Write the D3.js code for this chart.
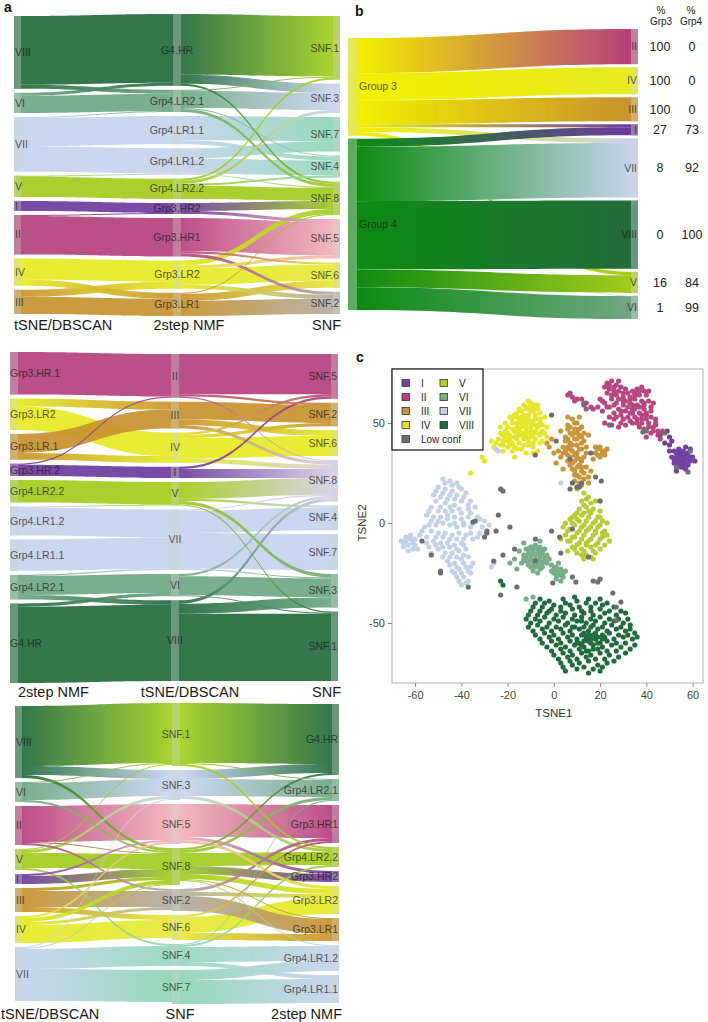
<!DOCTYPE html>
<html>
<head>
<meta charset="utf-8">
<script src="https://cdn.jsdelivr.net/npm/d3@7"></script>
<style>
  body { margin: 0; background: #fff; }
  svg { font-family: Arial, "Liberation Sans", sans-serif; }
</style>
</head>
<body>
<svg id="fig" width="708" height="1022"></svg>
<script>
// ---------- data ----------
// cluster orders used in each alluvial panel
var tsneA1 = ["VIII", "VI", "VII", "V", "I", "II", "IV", "III"];
var nmfA1 = ["G4.HR", "Grp4.LR2.1", "Grp4.LR1.1", "Grp4.LR1.2", "Grp4.LR2.2", "Grp3.HR2", "Grp3.HR1", "Grp3.LR2", "Grp3.LR1"];
var snfA1 = ["SNF.1", "SNF.3", "SNF.7", "SNF.4", "SNF.8", "SNF.5", "SNF.6", "SNF.2"];

var nmfA2 = ["Grp3.HR1", "Grp3.LR2", "Grp3.LR1", "Grp3.HR2", "Grp4.LR2.2", "Grp4.LR1.2", "Grp4.LR1.1", "Grp4.LR2.1", "G4.HR"];
var tsneA2 = ["II", "III", "IV", "I", "V", "VII", "VI", "VIII"];
var snfA2 = ["SNF.5", "SNF.2", "SNF.6", "SNF.8", "SNF.4", "SNF.7", "SNF.3", "SNF.1"];

var tsneA3 = ["VIII", "VI", "II", "V", "I", "III", "IV", "VII"];
var snfA3 = ["SNF.1", "SNF.3", "SNF.5", "SNF.8", "SNF.2", "SNF.6", "SNF.4", "SNF.7"];
var nmfA3 = ["G4.HR", "Grp4.LR2.1", "Grp3.HR1", "Grp4.LR2.2", "Grp3.HR2", "Grp3.LR2", "Grp3.LR1", "Grp4.LR1.2", "Grp4.LR1.1"];

// labels shown for 2step NMF in the middle panel
var nmfA2Labels = {"Grp3.HR1": "Grp3.HR.1", "Grp3.LR2": "Grp3.LR2", "Grp3.LR1": "Grp3.LR.1", "Grp3.HR2": "Grp3.HR.2",
  "Grp4.LR2.2": "Grp4.LR2.2", "Grp4.LR1.2": "Grp4.LR1.2", "Grp4.LR1.1": "Grp4.LR1.1", "Grp4.LR2.1": "Grp4.LR2.1", "G4.HR": "G4.HR"};

// sample counts shared between methods [from, to, n]
var tsneNmf = [
  ["VIII", "G4.HR", 68], ["VIII", "Grp4.LR2.1", 4],
  ["VI", "G4.HR", 3], ["VI", "Grp4.LR2.1", 17],
  ["VII", "Grp4.LR2.1", 1], ["VII", "Grp4.LR1.1", 28], ["VII", "Grp4.LR1.2", 25],
  ["V", "Grp4.LR1.2", 1], ["V", "Grp4.LR2.2", 20],
  ["I", "Grp3.HR2", 10],
  ["II", "Grp3.HR2", 1], ["II", "Grp3.HR1", 38],
  ["IV", "Grp3.LR2", 21], ["IV", "Grp3.LR1", 6],
  ["III", "Grp3.LR2", 7], ["III", "Grp3.LR1", 17]
];
var nmfSnf = [
  ["G4.HR", "SNF.1", 60], ["G4.HR", "SNF.3", 9], ["G4.HR", "SNF.8", 2],
  ["Grp4.LR2.1", "SNF.1", 1], ["Grp4.LR2.1", "SNF.3", 17], ["Grp4.LR2.1", "SNF.4", 1], ["Grp4.LR2.1", "SNF.8", 3],
  ["Grp4.LR1.1", "SNF.7", 24], ["Grp4.LR1.1", "SNF.4", 4],
  ["Grp4.LR1.2", "SNF.7", 10], ["Grp4.LR1.2", "SNF.4", 15], ["Grp4.LR1.2", "SNF.8", 1],
  ["Grp4.LR2.2", "SNF.1", 2], ["Grp4.LR2.2", "SNF.3", 3], ["Grp4.LR2.2", "SNF.4", 2], ["Grp4.LR2.2", "SNF.8", 13],
  ["Grp3.HR2", "SNF.8", 8], ["Grp3.HR2", "SNF.5", 3],
  ["Grp3.HR1", "SNF.5", 33], ["Grp3.HR1", "SNF.6", 2], ["Grp3.HR1", "SNF.2", 3],
  ["Grp3.LR2", "SNF.8", 5], ["Grp3.LR2", "SNF.5", 3], ["Grp3.LR2", "SNF.6", 16], ["Grp3.LR2", "SNF.2", 4],
  ["Grp3.LR1", "SNF.8", 1], ["Grp3.LR1", "SNF.6", 7], ["Grp3.LR1", "SNF.2", 15]
];
var tsneSnf = [
  ["VIII", "SNF.1", 60], ["VIII", "SNF.3", 9], ["VIII", "SNF.8", 3],
  ["VI", "SNF.1", 1], ["VI", "SNF.3", 17], ["VI", "SNF.8", 2],
  ["VII", "SNF.3", 1], ["VII", "SNF.4", 20], ["VII", "SNF.7", 32], ["VII", "SNF.8", 1],
  ["V", "SNF.1", 1], ["V", "SNF.3", 3], ["V", "SNF.4", 2], ["V", "SNF.8", 15],
  ["I", "SNF.8", 8], ["I", "SNF.5", 2],
  ["II", "SNF.5", 36], ["II", "SNF.8", 1], ["II", "SNF.2", 2],
  ["IV", "SNF.5", 2], ["IV", "SNF.6", 18], ["IV", "SNF.8", 4], ["IV", "SNF.2", 3],
  ["III", "SNF.2", 16], ["III", "SNF.6", 5], ["III", "SNF.8", 3]
];

// panel b
var groupsB = ["Group 3", "Group 4"];
var clustersB = ["II", "IV", "III", "I", "VII", "VIII", "V", "VI"];
var sizesB = [35, 27, 24, 11, 59, 68, 21, 23];
var pctGrp3 = [100, 100, 100, 27, 8, 0, 16, 1];
var pctGrp4 = [0, 0, 0, 73, 92, 100, 84, 99];

// panel c (tSNE coordinates)
var scatterNames = ["I", "II", "III", "IV", "V", "VI", "VII", "VIII", "Low conf"];
var scatterPts = [
  // I
  "52,36 54,37 56,36 58,35 53,33 55,34 57,32 59,31 54,31 56,30 52,30 58,29 55,28 53,28 57,27 51,33 60,33 54,35 56,33 55,31 49,46 50,43 48,40 51,41 46,44 50,39 50,36 53,26 59,37 57,38 61,31 " +
  "53,35 55,36 57,34 52,32 54,33 56,32 58,33 53,30 55,30 57,30 54,29 56,28 59,33",
  // II
  "23,70 25,71 27,69 24,67 28,71 22,68 26,66 29,68 20,62 22,60 25,62 27,64 30,63 32,65 34,66 36,67 38,68 35,62 33,60 30,59 28,57 26,55 24,58 29,54 31,56 34,57 36,59 38,61 40,64 39,57 37,55 35,53 33,51 31,49 36,50 38,52 40,54 42,56 41,50 43,48 39,47 42,45 44,52 37,48 27,60 24,53 21,56 19,58 22,50 25,49 33,63 31,67 37,64 43,60 45,46 40,43 34,55 29,50 32,53 28,48 26,52 45,44 47,46 46,42 6,64 8,63 10,62 12,62 14,60 16,58 17,57 7,65 9,61 13,59 41,66 39,60 35,65 30,61 44,49 " +
  "24,69 26,68 28,66 23,65 25,64 21,61 23,58 26,59 28,62 31,61 33,62 35,64 37,66 39,66 34,59 32,58 29,56 27,53 30,52 33,55 35,57 37,58 39,59 41,61 40,55 38,54 36,52 34,50 38,50 40,52 42,53 41,48 43,46 44,50 42,58 30,65",
  // III
  "8,52 10,50 6,49 9,47 12,48 7,45 11,44 5,43 9,42 13,41 7,40 10,39 4,38 12,37 8,36 6,34 10,33 14,35 9,31 11,29 7,29 8,27 12,26 10,24 13,22 9,21 15,23 11,20 6,31 3,33 2,36 5,41 11,53 13,45 15,44 3,46 6,38 12,31 14,28 16,26 18,35 19,37 21,36 22,34 20,33 18,38 17,32 23,37 -1,42 -2,38 1,30 0,35 4,27 15,20 12,19 6,53 8,44 10,35 9,26 -3,40 " +
  "9,50 7,48 11,47 8,45 10,42 6,42 12,40 8,39 11,37 5,36 9,34 7,33 11,32 13,33 8,30 10,28 12,28 9,24 11,23 13,25 7,37 4,35 14,38 19,34 21,35 20,38 22,36 6,47 10,45 12,43",
  // IV
  "-24,42 -22,44 -25,40 -23,39 -20,41 -21,46 -19,44 -18,47 -17,43 -16,45 -18,50 -16,50 -14,48 -15,52 -13,54 -12,50 -11,52 -12,46 -10,48 -9,51 -8,54 -10,56 -7,57 -9,58 -12,57 -14,56 -6,52 -5,49 -7,48 -4,45 -6,44 -8,42 -10,43 -13,42 -15,40 -11,39 -17,38 -20,38 -14,37 -9,38 -16,55 -19,53 -21,50 -23,48 -13,59 -8,59 -3,48 -5,41 -27,41 -26,38 -22,36 -18,36 -12,35 -7,36 -17,33 -11,45 -13,44 -15,47 -17,54 -4,53 -10,60 -30,31 -36,25 -9,35 -11,61 -6,55 -20,48 -22,41 -15,44 -8,46 -19,39 -3,43 -31,33 " +
  "-23,45 -21,43 -19,42 -17,46 -16,48 -14,50 -13,52 -11,54 -9,56 -7,59 -12,58 -15,57 -14,53 -16,53 -18,52 -20,45 -22,39 -18,40 -16,42 -14,45 -12,48 -10,50 -8,52 -6,50 -7,45 -9,44 -11,41 -13,39 -16,37 -9,40 -5,46 -11,58 -8,49 -10,46 -12,43 -6,40",
  // V
  "13,15 15,13 12,11 16,10 14,8 11,7 17,7 13,5 9,4 15,3 19,3 7,2 11,1 21,1 5,0 9,-1 13,-1 17,0 23,0 7,-3 11,-4 15,-3 19,-2 22,-4 5,-6 9,-7 13,-6 17,-6 21,-7 7,-9 11,-10 15,-9 19,-10 8,-12 12,-13 16,-12 20,-13 10,-15 14,-16 18,-15 13,-18 4,-2 3,-8 24,-9 6,-14 22,-11 17,-18 10,5 18,11 12,20 10,17 20,6 14,-11 18,-5 " +
  "14,12 13,9 15,6 12,4 16,5 10,2 14,1 18,1 8,0 12,-2 16,-2 20,-1 6,-4 10,-5 14,-4 18,-4 21,-5 8,-7 12,-8 16,-8 20,-8 10,-11 14,-10 18,-11 9,-13 13,-14 17,-14 12,-16 16,-17 6,-9 23,-6 8,3 20,3",
  // VI
  "-12,-13 -10,-12 -8,-11 -6,-12 -4,-13 -13,-16 -11,-15 -9,-14 -7,-15 -5,-15 -3,-16 -12,-19 -10,-18 -8,-18 -6,-18 -4,-19 -2,-18 -11,-21 -9,-21 -7,-21 -5,-22 -9,-24 -6,-9 -14,-20 -15,-14 -17,-18 -19,-20 -16,-23 -1,-21 1,-22 3,-23 0,-25 2,-26 4,-27 1,-28 3,-29 5,-24 -1,-24 -13,-10 -7,-25 2,-20 -9,-37 -12,-38 " +
  "-11,-13 -9,-12 -7,-13 -5,-14 -12,-17 -10,-16 -8,-16 -6,-16 -4,-17 -11,-19 -9,-19 -7,-19 -5,-20 -10,-22 -8,-22 -6,-23 -13,-18 -3,-20 0,-23 2,-24 1,-26 3,-26 4,-25",
  // VII
  "-48,22 -45,21 -42,20 -50,18 -47,17 -44,16 -40,17 -38,15 -52,14 -49,13 -46,12 -43,12 -40,11 -36,11 -34,8 -37,7 -41,7 -45,8 -49,8 -53,8 -55,4 -52,3 -49,3 -46,4 -43,3 -40,2 -37,3 -33,3 -30,1 -28,-1 -54,-1 -51,-1 -48,0 -45,-1 -42,-2 -39,-1 -36,-2 -57,-4 -53,-4 -50,-5 -47,-5 -44,-6 -41,-5 -38,-6 -35,-8 -32,-5 -29,-5 -66,-9 -64,-7 -62,-6 -65,-12 -63,-11 -61,-10 -60,-8 -59,-13 -63,-14 -58,-6 -52,-9 -49,-10 -46,-10 -43,-11 -40,-10 -50,-13 -47,-15 -44,-15 -41,-14 -38,-13 -46,-19 -43,-20 -40,-18 -37,-17 -44,-24 -41,-23 -38,-22 -35,-20 -42,-27 -39,-27 -36,-25 -40,-31 -37,-29 -55,-10 -53,-15 -27,-22 -26,-20 -25,37 -24,36 3,20 " +
  "-47,20 -44,19 -41,18 -51,16 -48,15 -45,14 -42,14 -39,13 -37,9 -43,9 -47,10 -51,11 -54,6 -50,6 -47,6 -44,6 -40,5 -36,5 -32,2 -53,1 -50,1 -46,2 -43,0 -39,0 -35,0 -31,-2 -56,-2 -55,-7 -51,-7 -48,-7 -45,-8 -42,-8 -39,-8 -36,-5 -33,-7 -65,-10 -62,-8 -60,-11 -61,-13 -64,-9 -54,-12 -51,-11 -48,-12 -45,-12 -42,-13 -39,-11 -48,-17 -45,-17 -42,-17 -39,-16 -45,-21 -42,-22 -39,-20 -36,-22 -43,-25 -40,-25 -37,-24 -38,-30 -41,-29",
  // VIII
  "-6,-38 -2,-39 4,-38 9,-37 15,-38 20,-38 -9,-42 -5,-42 -1,-43 3,-42 7,-41 11,-42 16,-42 21,-41 26,-42 -11,-46 -7,-46 -3,-45 1,-46 5,-45 9,-46 13,-45 17,-46 22,-45 27,-46 31,-45 -10,-50 -6,-49 -2,-50 2,-49 6,-50 10,-49 14,-50 18,-49 22,-50 26,-49 30,-50 33,-51 -9,-54 -5,-53 -1,-54 3,-53 7,-54 11,-53 15,-54 19,-53 23,-54 27,-53 31,-54 35,-55 -6,-58 -2,-57 2,-58 6,-57 10,-58 14,-57 18,-58 22,-57 26,-58 30,-57 34,-58 -3,-62 1,-61 5,-62 9,-61 13,-62 17,-61 21,-62 25,-61 29,-62 33,-63 0,-66 4,-65 8,-66 12,-65 16,-66 20,-65 24,-66 28,-67 3,-70 7,-69 11,-70 15,-69 19,-71 23,-70 5,-74 10,-73 15,-75 20,-74 12,-56 16,-60 14,-64 18,-55 20,-60 10,-60 16,-52 8,-52 12,-47 -23,-29 -22,-31 " +
  "-8,-40 -4,-40 0,-41 5,-40 10,-39 14,-40 18,-40 23,-40 -10,-44 -6,-44 -2,-44 3,-44 8,-43 12,-44 16,-44 20,-43 24,-44 29,-44 -12,-48 -8,-48 -4,-47 0,-48 4,-47 8,-48 12,-49 16,-48 20,-47 24,-48 28,-48 32,-48 " +
  "-11,-52 -7,-51 -3,-52 1,-52 5,-51 9,-52 13,-52 17,-51 21,-52 25,-51 29,-52 33,-53 -8,-56 -4,-55 0,-56 4,-55 8,-56 13,-55 17,-56 21,-56 24,-55 28,-56 32,-56 36,-57 " +
  "-5,-60 -1,-59 3,-60 7,-59 11,-60 15,-59 19,-60 23,-59 27,-60 31,-60 35,-61 -1,-64 3,-63 7,-64 11,-63 15,-64 19,-63 23,-64 27,-64 31,-65 2,-68 6,-67 10,-68 14,-67 18,-68 22,-68 26,-69 4,-72 8,-71 13,-72 17,-73 21,-72 " +
  "14,-58 12,-61 17,-63 19,-57 15,-56 21,-58 13,-59 16,-58",
  // Low conf
  "-1,54 7,32 10,18 12,20 8,20 7,17 20.5,21 18,23 -8,34 -23,17 -22,16 -34,1 -35,0.5 -29,-5 -30,-7 -29,-4 -25,-4 -24,4 -19,-2 -1,-4 2.5,-7 8,-3 20,11 15,-17 3,-15 -8,-8 -8,-19 -17,-13 -22,-16 -26,-19 -49,-25 -49,-24 -37,-32 -53,-16 -57,-9 -23,-36 -16,-32 -0.5,-30 8,-27 9.5,-29.5 17,-29 19,-29.5 20,-28 25.5,-35 29,-39.5 27,-42 27,-48.7 40,46 38.5,45.5 48,45 59,36 58,25.5 53,28 1,41 16,35 14,57 13,60 24,49 11,18"
];
var xTicks = [-60, -40, -20, 0, 20, 40, 60];
var yTicks = [-50, 0, 50];

// ---------- colours ----------
var tsneColors = {I: "#6e3a9f", II: "#b5407e", III: "#c8922e", IV: "#e6ea22", V: "#a3cb1c", VI: "#6fa784", VII: "#c5d3ec", VIII: "#236b3d"};
var nmfColors = {"G4.HR": "#236b3d", "Grp4.LR2.1": "#6fa784", "Grp4.LR1.1": "#c5d3ec", "Grp4.LR1.2": "#c5d3ec", "Grp4.LR2.2": "#a3cb1c",
  "Grp3.HR2": "#6e3a9f", "Grp3.HR1": "#b5407e", "Grp3.LR2": "#e6ea22", "Grp3.LR1": "#c8922e"};
var snfColors = {"SNF.1": "#a2cf1e", "SNF.3": "#c9d5ef", "SNF.7": "#8fd6b6", "SNF.4": "#95d8bd", "SNF.8": "#a0cc20",
  "SNF.5": "#f3b2ba", "SNF.6": "#e6e83c", "SNF.2": "#b2aca4"};
var snfColorsMid = {"SNF.5": "#b5407e", "SNF.2": "#c8922e", "SNF.6": "#e6ea22", "SNF.8": "#d5d0e4", "SNF.4": "#c5d3ec",
  "SNF.7": "#c5d3ec", "SNF.3": "#6fa784", "SNF.1": "#236b3d"};
var groupColors = {"Group 3": "#f2f000", "Group 4": "#0d8a12"};
var scatterColors = {I: "#7040a2", II: "#b5467f", III: "#c8943c", IV: "#e5e52a", V: "#b5cb38", VI: "#78ad8a",
  VII: "#c4d0e8", VIII: "#226b3e", "Low conf": "#6e6e6e"};

var svg = d3.select('#fig');

function flip(ls) { return ls.map(function (l) { return [l[1], l[0], l[2]]; }); }

// ---------- alluvial layout + drawing ----------
function drawAlluvial(cfg) {
  var g = svg.append('g');
  var cols = cfg.cols.map(function (c, ci) {
    return c.names.map(function (n) {
      return {name: n, ci: ci, vin: 0, vout: 0, ins: [], outs: [], x0: c.x, x1: c.x + c.w, color: c.colors[n],
        label: c.labels ? c.labels[n] : n};
    });
  });
  var links = [];
  cfg.stages.forEach(function (st, si) {
    st.forEach(function (l) {
      var s = cols[si].find(function (d) { return d.name === l[0]; });
      var t = cols[si + 1].find(function (d) { return d.name === l[1]; });
      var lk = {source: s, target: t, value: l[2]};
      s.outs.push(lk); t.ins.push(lk);
      s.vout += l[2]; t.vin += l[2];
      links.push(lk);
    });
  });
  cols.forEach(function (col) { col.forEach(function (d) { d.value = Math.max(d.vin, d.vout); }); });

  var H = cfg.y1 - cfg.y0;
  var ky = d3.min(cols, function (c) { return (H - (c.length - 1) * cfg.pad) / d3.sum(c, function (d) { return d.value; }); });
  var h = d3.scaleLinear().domain([0, 1]).range([0, ky]);

  cols.forEach(function (col) {
    var colH = h(d3.sum(col, function (d) { return d.value; })) + (col.length - 1) * cfg.pad;
    var y = cfg.y0 + (H - colH) / 2;
    col.forEach(function (d) { d.y0 = y; d.y1 = y + h(d.value); y = d.y1 + cfg.pad; });
  });
  cols.forEach(function (col) {
    col.forEach(function (d) {
      var y = d.y0;
      d.outs.sort(function (a, b) { return a.target.y0 - b.target.y0; })
        .forEach(function (l) { l.sy0 = y; y += h(l.value); l.sy1 = y; });
      y = d.y0;
      d.ins.sort(function (a, b) { return a.source.y0 - b.source.y0; })
        .forEach(function (l) { l.ty0 = y; y += h(l.value); l.ty1 = y; });
    });
  });

  var defs = g.append('defs');
  links.forEach(function (l, i) {
    l.gid = cfg.id + '-g' + i;
    var gr = defs.append('linearGradient').attr('id', l.gid)
      .attr('gradientUnits', 'userSpaceOnUse')
      .attr('x1', l.source.x1).attr('x2', l.target.x0).attr('y1', 0).attr('y2', 0);
    gr.append('stop').attr('offset', '0%').attr('stop-color', l.source.color);
    gr.append('stop').attr('offset', '100%').attr('stop-color', l.target.color);
  });

  function ribbon(l) {
    var sx = l.source.x1, tx = l.target.x0, mx = (sx + tx) / 2;
    return 'M' + sx + ',' + l.sy0 + 'C' + mx + ',' + l.sy0 + ' ' + mx + ',' + l.ty0 + ' ' + tx + ',' + l.ty0 +
      'L' + tx + ',' + l.ty1 + 'C' + mx + ',' + l.ty1 + ' ' + mx + ',' + l.sy1 + ' ' + sx + ',' + l.sy1 + 'Z';
  }

  var drawn = cfg.natural ? links : links.slice().sort(function (a, b) { return b.value - a.value; });
  g.append('g').selectAll('path')
    .data(drawn)
    .enter().append('path')
    .attr('d', ribbon)
    .attr('fill', function (l) { return 'url(#' + l.gid + ')'; })
    .attr('opacity', cfg.opacity || 0.92);

  var allNodes = [].concat.apply([], cols);
  var ng = g.append('g');
  ng.selectAll('rect.n').data(allNodes).enter().append('rect')
    .attr('x', function (d) { return d.x0; }).attr('y', function (d) { return d.y0; })
    .attr('width', function (d) { return d.x1 - d.x0; }).attr('height', function (d) { return d.y1 - d.y0; })
    .attr('fill', function (d) { return d.color; });
  ng.selectAll('rect.o').data(allNodes).enter().append('rect')
    .attr('x', function (d) { return d.x0; }).attr('y', function (d) { return d.y0; })
    .attr('width', function (d) { return d.x1 - d.x0; }).attr('height', function (d) { return d.y1 - d.y0; })
    .attr('fill', '#d8dcd8').attr('opacity', 0.4);

  ng.selectAll('text').data(allNodes).enter().append('text')
    .attr('x', function (d) { return cfg.cols[d.ci].lx; })
    .attr('y', function (d) { return (d.y0 + d.y1) / 2; })
    .attr('dy', '0.35em')
    .attr('text-anchor', function (d) { return cfg.cols[d.ci].anchor; })
    .style('font-size', '10.5px')
    .attr('fill', '#1a1a1a').attr('opacity', 0.72)
    .text(function (d) { return d.label; });

  if (cfg.titles) {
    g.selectAll('text.title').data(cfg.titles).enter().append('text')
      .attr('x', function (d, i) { return cfg.titleX[i]; })
      .attr('y', cfg.titleY)
      .attr('text-anchor', function (d, i) { return ['start', 'middle', 'end'][i]; })
      .style('font-size', '14.5px')
      .attr('fill', '#1a1a1a')
      .text(function (d) { return d; });
  }
  return cols;
}

// panel a, top
drawAlluvial({
  id: 'a1', y0: 14, y1: 316, pad: 4,
  cols: [
    {names: tsneA1, colors: tsneColors, x: 14, w: 7, lx: 15, anchor: 'start'},
    {names: nmfA1, colors: nmfColors, x: 173, w: 8, lx: 177, anchor: 'middle'},
    {names: snfA1, colors: snfColors, x: 333, w: 7, lx: 339, anchor: 'end'}
  ],
  stages: [tsneNmf, nmfSnf],
  titles: ['tSNE/DBSCAN', '2step NMF', 'SNF'], titleX: [14, 189, 341], titleY: 330
});

// panel a, middle
drawAlluvial({
  id: 'a2', y0: 352, y1: 683, pad: 4,
  cols: [
    {names: nmfA2, colors: nmfColors, labels: nmfA2Labels, x: 10, w: 8, lx: 10, anchor: 'start'},
    {names: tsneA2, colors: tsneColors, x: 171, w: 8, lx: 175, anchor: 'middle'},
    {names: snfA2, colors: snfColorsMid, x: 331, w: 7, lx: 337, anchor: 'end'}
  ],
  stages: [flip(tsneNmf), tsneSnf],
  titles: ['2step NMF', 'tSNE/DBSCAN', 'SNF'], titleX: [18, 190, 341], titleY: 697
});

// panel a, bottom
drawAlluvial({
  id: 'a3', y0: 703, y1: 1004, pad: 4,
  cols: [
    {names: tsneA3, colors: tsneColors, x: 15, w: 7, lx: 16, anchor: 'start'},
    {names: snfA3, colors: snfColors, x: 172, w: 8, lx: 176, anchor: 'middle'},
    {names: nmfA3, colors: nmfColors, x: 332, w: 7, lx: 338, anchor: 'end'}
  ],
  stages: [tsneSnf, flip(nmfSnf)],
  titles: ['tSNE/DBSCAN', 'SNF', '2step NMF'], titleX: [1, 180, 342], titleY: 1019
});

// panel b
var linksB = [];
clustersB.forEach(function (c, i) {
  if (pctGrp3[i] > 0) linksB.push(['Group 3', c, sizesB[i] * pctGrp3[i] / 100]);
});
clustersB.forEach(function (c, i) {
  if (pctGrp4[i] > 0) linksB.push(['Group 4', c, sizesB[i] * pctGrp4[i] / 100]);
});
var colsB = drawAlluvial({
  id: 'b', y0: 29, y1: 319, pad: 3, natural: true, opacity: 1,
  cols: [
    {names: groupsB, colors: groupColors, x: 348, w: 9, lx: 359, anchor: 'start'},
    {names: clustersB, colors: tsneColors, x: 631, w: 7, lx: 637, anchor: 'end'}
  ],
  stages: [linksB]
});

var pg = svg.append('g').style('font-size', '12.5px').attr('fill', '#222');
colsB[1].forEach(function (d, i) {
  var yc = (d.y0 + d.y1) / 2;
  pg.append('text').attr('x', 660).attr('y', yc).attr('dy', '0.35em').attr('text-anchor', 'middle').text(pctGrp3[i]);
  pg.append('text').attr('x', 692).attr('y', yc).attr('dy', '0.35em').attr('text-anchor', 'middle').text(pctGrp4[i]);
});
[['Grp3', 661], ['Grp4', 691]].forEach(function (h) {
  pg.append('text').attr('x', h[1]).attr('y', 14).attr('text-anchor', 'middle').style('font-size', '10px').text('%');
  pg.append('text').attr('x', h[1]).attr('y', 25).attr('text-anchor', 'middle').style('font-size', '10px').text(h[0]);
});

// ---------- panel c: scatter ----------
var xs = d3.scaleLinear().domain([-70, 64.5]).range([392, 703]);
var ys = d3.scaleLinear().domain([-80, 77]).range([683, 369]);

var cg = svg.append('g');
cg.append('rect').attr('x', xs.range()[0]).attr('y', ys.range()[1])
  .attr('width', xs.range()[1] - xs.range()[0]).attr('height', ys.range()[0] - ys.range()[1])
  .attr('fill', 'none').attr('stroke', '#c4c4c4').attr('stroke-width', 1.3);

var xAxis = cg.append('g').attr('transform', 'translate(0,683)')
  .call(d3.axisBottom(xs).tickValues(xTicks).tickSize(4).tickPadding(4).tickFormat(function (d) { return String(d); }));
var yAxis = cg.append('g').attr('transform', 'translate(392,0)')
  .call(d3.axisLeft(ys).tickValues(yTicks).tickSize(4).tickPadding(3).tickFormat(function (d) { return String(d); }));
[xAxis, yAxis].forEach(function (a) {
  a.select('.domain').remove();
  a.selectAll('line').attr('stroke', '#8a8a8a');
  a.selectAll('text').attr('fill', '#444').style('font-size', '11px').style('font-family', 'Arial, "Liberation Sans", sans-serif');
});

cg.append('text').attr('x', xs(0)).attr('y', 717).attr('text-anchor', 'middle')
  .style('font-size', '11.5px').attr('fill', '#333').text('TSNE1');
cg.append('text').attr('transform', 'translate(366,' + ys(0) + ') rotate(-90)').attr('text-anchor', 'middle')
  .style('font-size', '11.5px').attr('fill', '#333').text('TSNE2');

scatterNames.forEach(function (n, i) {
  var pts = scatterPts[i].split(' ').map(function (s) { return s.split(',').map(Number); });
  cg.append('g').selectAll('circle').data(pts).enter().append('circle')
    .attr('cx', function (d) { return xs(d[0]); })
    .attr('cy', function (d) { return ys(d[1]); })
    .attr('r', 2.6)
    .attr('fill', scatterColors[n]);
});

// legend
var lg = cg.append('g');
lg.append('rect').attr('x', 392).attr('y', 369).attr('width', 91).attr('height', 81)
  .attr('fill', '#fff').attr('stroke', '#111').attr('stroke-width', 1.2);
var legCol1 = ['I', 'II', 'III', 'IV', 'Low conf'];
var legCol2 = ['V', 'VI', 'VII', 'VIII'];
[[legCol1, 402], [legCol2, 440]].forEach(function (c) {
  c[0].forEach(function (n, i) {
    var yc = 383 + i * 14;
    lg.append('rect').attr('x', c[1]).attr('y', yc - 3.5).attr('width', 7.5).attr('height', 7)
      .attr('fill', scatterColors[n]).attr('stroke', '#333').attr('stroke-width', 0.8);
    lg.append('text').attr('x', c[1] + 19).attr('y', yc).attr('dy', '0.35em')
      .style('font-size', '10px').attr('fill', '#222').text(n);
  });
});

// panel letters
[['a', 4, 12], ['b', 355, 16], ['c', 356, 362]].forEach(function (p) {
  svg.append('text').attr('x', p[1]).attr('y', p[2]).style('font-size', '14px').style('font-weight', 'bold')
    .attr('fill', '#111').text(p[0]);
});
</script>
</body>
</html>
